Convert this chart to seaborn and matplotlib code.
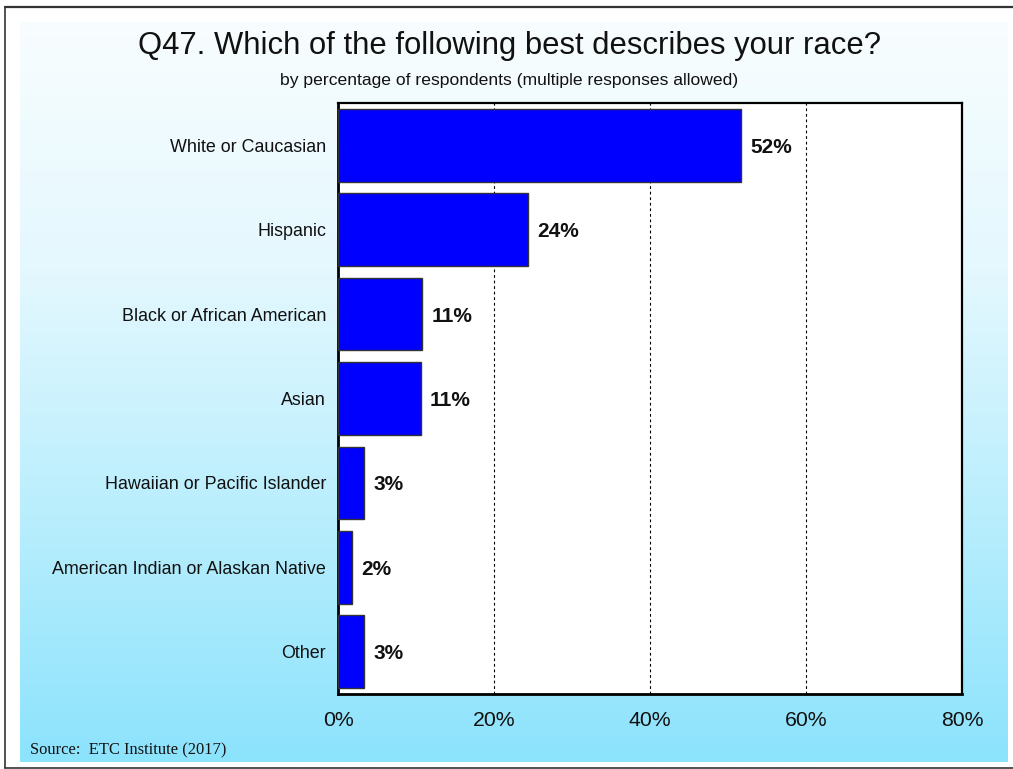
import numpy as np
import pandas as pd
import matplotlib
matplotlib.use("Agg")
import matplotlib.pyplot as plt
from matplotlib.colors import LinearSegmentedColormap
import seaborn as sns

categories = [
    "White or Caucasian",
    "Hispanic",
    "Black or African American",
    "Asian",
    "Hawaiian or Pacific Islander",
    "American Indian or Alaskan Native",
    "Other",
]
percentages = [51.7, 24.3, 10.8, 10.6, 3.3, 1.8, 3.3]
x_ticks = [0, 20, 40, 60, 80]
x_tick_labels = ["0%", "20%", "40%", "60%", "80%"]

title = "Q47. Which of the following best describes your race?"
subtitle = "by percentage of respondents (multiple responses allowed)"
source = "Source:  ETC Institute (2017)"

df = pd.DataFrame({"category": categories, "pct": percentages})

sns.set_theme(style="white")
plt.rcParams["font.family"] = ["Liberation Sans", "DejaVu Sans"]

W, H = 1013, 769
fig = plt.figure(figsize=(W / 100, H / 100), dpi=100)
fig.patch.set_facecolor("white")

# gradient panel behind everything
bg = fig.add_axes([20 / W, 1 - 762 / H, (1008 - 20) / W, (762 - 22) / H], zorder=0)
grad = np.linspace(0, 1, 256).reshape(-1, 1)
cmap = LinearSegmentedColormap.from_list("sky", ["#F8FDFF", "#E4F8FE", "#B9EEFD", "#8CE3FC"])
bg.imshow(grad, aspect="auto", cmap=cmap, extent=[0, 1, 0, 1], origin="upper")
bg.set_axis_off()

# outer frame lines
fig.add_artist(plt.Line2D([5 / W, 1], [1 - 6.5 / H, 1 - 6.5 / H], color="#333333", lw=1.6,
                          transform=fig.transFigure))
fig.add_artist(plt.Line2D([5 / W, 5 / W], [1 - 6.5 / H, 1 - 767.5 / H], color="#333333", lw=1.2,
                          transform=fig.transFigure))
fig.add_artist(plt.Line2D([5 / W, 1], [1 - 767.5 / H, 1 - 767.5 / H], color="#333333", lw=1.2,
                          transform=fig.transFigure))

left, right, top, bottom = 338, 962, 103, 694
ax = fig.add_axes([left / W, 1 - bottom / H, (right - left) / W, (bottom - top) / H], zorder=2)
ax.set_facecolor("white")

sns.barplot(data=df, y="category", x="pct", orient="h", ax=ax, color="#0000FF",
            saturation=1, width=0.86, edgecolor="#333333", linewidth=1.0, zorder=3)

ax.set_xlim(0, 80)
ax.set_ylim(6.5, -0.5)
ax.set_xticks(x_ticks)
ax.set_xticklabels(x_tick_labels, fontsize=15.3, color="#111111")
ax.tick_params(axis="x", length=0, pad=12)
ax.tick_params(axis="y", length=0, pad=8.6)
ax.set_yticks(range(len(categories)))
ax.set_yticklabels(categories, fontsize=12.9, color="#111111", va="center_baseline")
ax.set_xlabel("")
ax.set_ylabel("")

for xv in x_ticks[1:-1]:
    ax.axvline(xv, color="black", lw=0.8, ls=(0, (2.5, 2.5)), zorder=1)

for side in ["top", "right"]:
    ax.spines[side].set_visible(True)
    ax.spines[side].set_color("black")
    ax.spines[side].set_linewidth(1.6)
for side in ["left", "bottom"]:
    ax.spines[side].set_visible(True)
    ax.spines[side].set_color("black")
    ax.spines[side].set_linewidth(2.0)

for i, v in enumerate(percentages):
    ax.text(v + 1.2, i, f"{v:.0f}%", va="center_baseline", ha="left", fontsize=15,
            fontweight="bold", color="#111111", zorder=4)

fig.text(0.5 + 3 / W, 1 - 46 / H, title, ha="center", va="center", fontsize=22.3, color="#111111")
fig.text(0.5 + 3 / W, 1 - 80 / H, subtitle, ha="center", va="center", fontsize=12.6, color="#111111")
fig.text(30 / W, 1 - 750 / H, source, ha="left", va="center", fontsize=11.9,
         family=["Liberation Serif", "DejaVu Serif"], color="#111111")

fig.savefig("out.png", dpi=100)
